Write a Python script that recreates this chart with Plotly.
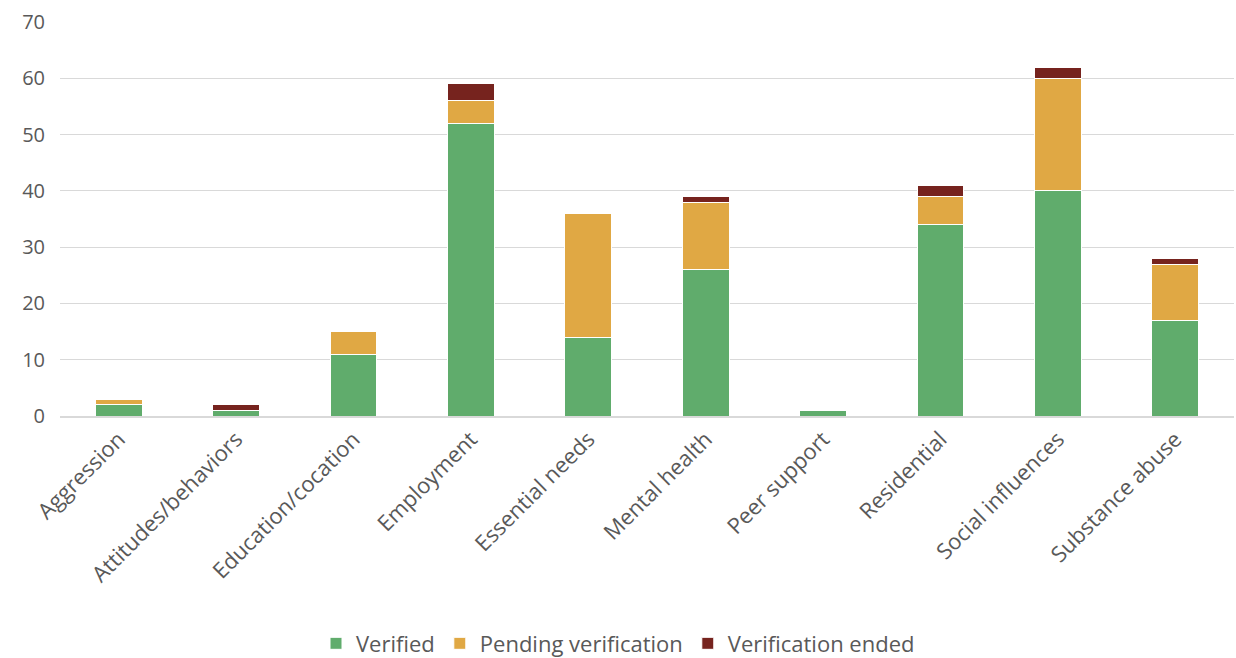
import plotly.graph_objects as go

categories = ["Aggression", "Attitudes/behaviors", "Education/cocation", "Employment",
              "Essential needs", "Mental health", "Peer support", "Residential",
              "Social influences", "Substance abuse"]
verified = [2, 1, 11, 52, 14, 26, 1, 34, 40, 17]
pending = [1, 0, 4, 4, 22, 12, 0, 5, 20, 10]
ended = [0, 1, 0, 3, 0, 1, 0, 2, 2, 1]

series = [
    ("Verified", verified, "#60AC6C"),
    ("Pending verification", pending, "#E0A844"),
    ("Verification ended", ended, "#76231E"),
]

fig = go.Figure()
for name, vals, color in series:
    fig.add_trace(go.Bar(
        x=categories, y=vals, name=name,
        marker=dict(color=color, line=dict(color="white", width=1)),
    ))

font_family = "Open Sans, Noto Sans, sans-serif"
fig.update_layout(
    barmode="stack",
    bargap=0.6,
    width=1236, height=658,
    margin=dict(l=60, r=2, t=22, b=242, autoexpand=False),
    plot_bgcolor="white", paper_bgcolor="white",
    font=dict(family=font_family, size=20, color="#595959"),
    showlegend=True,
    legend=dict(orientation="h", x=0.5, xref="container", xanchor="center",
                y=0.022, yref="container", yanchor="middle",
                font=dict(size=22, color="#595959"), traceorder="normal",
                itemwidth=30, tracegroupgap=0),
)
fig.update_yaxes(range=[0, 70], dtick=10, showgrid=True, gridcolor="#D9D9D9", gridwidth=1,
                 zeroline=False, showline=False, ticks="outside", ticklen=10,
                 tickcolor="white", tickfont=dict(size=20, color="#595959"),
                 automargin=False)
fig.update_xaxes(showline=True, linecolor="#D9D9D9", linewidth=1.5, tickangle=-45,
                 tickfont=dict(size=22, color="#595959"), ticks="", automargin=False)

fig.write_html("out.html")
